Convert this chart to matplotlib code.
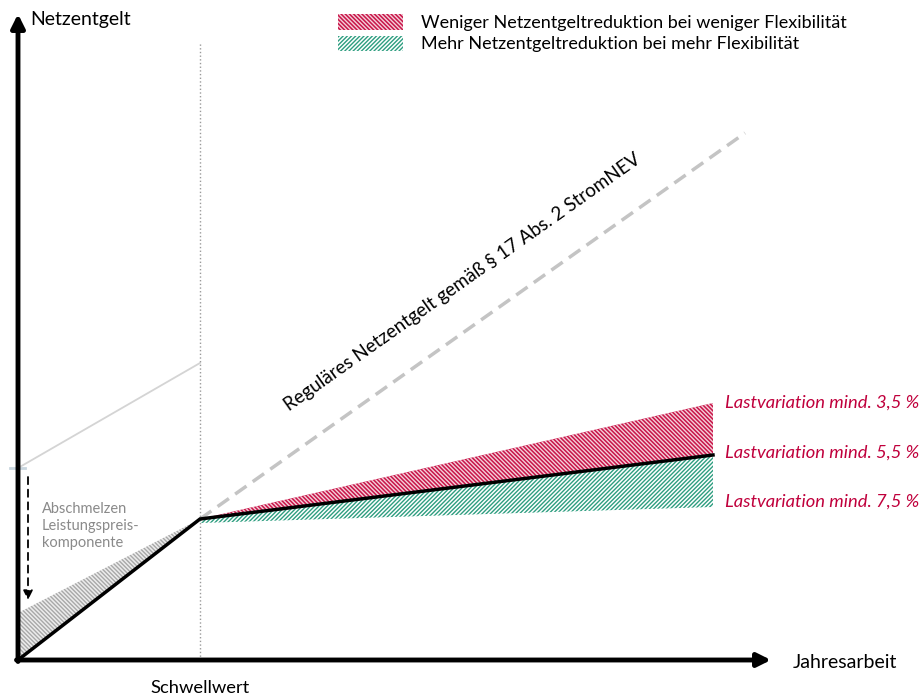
import numpy as np
import matplotlib
matplotlib.use("Agg")
import matplotlib.pyplot as plt

plt.rcParams["font.family"] = ["Lato", "DejaVu Sans"]
plt.rcParams["hatch.linewidth"] = 1.0

# Schematic values (x = Jahresarbeit, y = Netzentgelt), origin at axis crossing
SCHWELLWERT = 182
X_END = 695

x_curve = [0, SCHWELLWERT, X_END]
y_curve = [0, 141, 205]          # Lastvariation mind. 5,5 %

x_band = [SCHWELLWERT, X_END]
y_red_top = [141, 257]           # Lastvariation mind. 3,5 %
y_mid = [141, 205]
y_green_bottom = [137, 153]      # Lastvariation mind. 7,5 %

x_regular = [SCHWELLWERT, 727]
y_regular = [141, 527]

x_grey_band = [0, SCHWELLWERT]
y_grey_top = [47, 141]
y_grey_bottom = [0, 141]

x_light = [0, SCHWELLWERT]
y_light = [192, 297]

labels_right = [
    "Lastvariation mind. 3,5 %",
    "Lastvariation mind. 5,5 %",
    "Lastvariation mind. 7,5 %",
]
labels_right_y = [257, 207, 158]

RED = "#c8164a"
GREEN = "#2e9e80"
CRIMSON = "#c0003c"

fig = plt.figure(figsize=(9.21, 6.97), dpi=100)
ax = fig.add_axes([0, 0, 1, 1])
ax.set_xlim(-18, 903)
ax.set_ylim(-37, 660)
ax.axis("off")

# Hatched areas
ax.fill_between(
    x_band, y_mid, y_red_top,
    facecolor=RED, edgecolor="#f4d0da", hatch="\\" * 8, linewidth=0,
    label="Weniger Netzentgeltreduktion bei weniger Flexibilität"
)
ax.fill_between(
    x_band, y_green_bottom, y_mid,
    facecolor="white", edgecolor=GREEN, hatch="/" * 8, linewidth=0,
    label="Mehr Netzentgeltreduktion bei mehr Flexibilität"
)
ax.fill_between(
    x_grey_band, y_grey_bottom, y_grey_top,
    facecolor="#ececec", edgecolor="#a8a8a8", hatch="\\" * 8, linewidth=0
)

# Lines
ax.plot(x_light, y_light, color="#d4d4d4", lw=1.3)
ax.plot([-8, 7], [y_light[0], y_light[0]], color="#c9d6df", lw=2)
ax.plot(x_regular, y_regular, color="#c4c4c4", lw=2.5, ls=(0, (4, 2.2)))
ax.plot([SCHWELLWERT, SCHWELLWERT], [0, 617], color="#9a9a9a", lw=1, ls=":")
ax.plot(x_curve, y_curve, color="black", lw=2.5, solid_joinstyle="miter")

# Axes arrows
ax.annotate("", xy=(0, 646), xytext=(0, -1.5),
            arrowprops=dict(arrowstyle="-|>", color="black", lw=3.5,
                            mutation_scale=20, shrinkA=0, shrinkB=0))
ax.annotate("", xy=(753, 0), xytext=(-1.5, 0),
            arrowprops=dict(arrowstyle="-|>", color="black", lw=3.5,
                            mutation_scale=20, shrinkA=0, shrinkB=0))

# Dashed arrow (Abschmelzen)
ax.annotate("", xy=(10, 60), xytext=(10, 183),
            arrowprops=dict(arrowstyle="-|>", color="black", lw=1.3,
                            ls=(0, (4, 3)), mutation_scale=14,
                            shrinkA=0, shrinkB=0))
ax.text(24, 158, "Abschmelzen\nLeistungspreis-\nkomponente",
        color="#8a8a8a", fontsize=10.5, ha="left", va="top", linespacing=1.25)

# Axis labels
ax.text(12, 640, "Netzentgelt", fontsize=14, ha="left", va="center")
ax.text(775, -2, "Jahresarbeit", fontsize=14, ha="left", va="center")
ax.text(SCHWELLWERT, -28, "Schwellwert", fontsize=13.2, ha="center", va="center")

# Regular fee label along dashed line
ax.text(444, 378, "Reguläres Netzentgelt gemäß § 17 Abs. 2 StromNEV",
        fontsize=13.5, rotation=35.3, rotation_mode="anchor",
        ha="center", va="center")

for label, yv in zip(labels_right, labels_right_y):
    ax.text(707, yv, label, color=CRIMSON, fontsize=13.2, style="italic",
            ha="left", va="center")

ax.legend(
    loc="upper left", bbox_to_anchor=(338 / 921, 1 - 14 / 697),
    frameon=False, fontsize=13, borderaxespad=0, borderpad=0,
    handlelength=3.6, handleheight=0.95, handletextpad=1.0,
    labelspacing=0.25
)

fig.savefig("out.png", dpi=100)
